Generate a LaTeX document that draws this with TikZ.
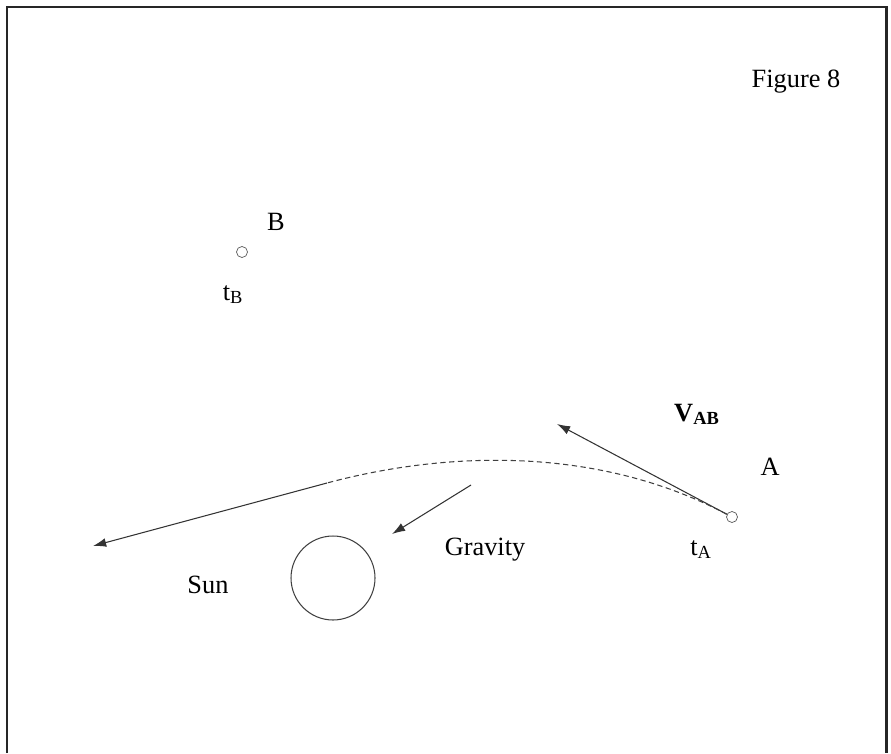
\documentclass[tikz,border=0pt]{standalone}
\usepackage{fontspec}
\setmainfont{Liberation Serif}
\usetikzlibrary{arrows.meta}

\begin{document}
\begin{tikzpicture}[x=0.02cm,y=-0.02cm,font=\fontsize{15}{18}\selectfont,
	pt/.style={draw,circle,inner sep=0pt,minimum size=0.22cm,color=black!65},
	vec/.style={-{Latex[length=7.5pt,width=5pt]},color=black!80,line width=0.6pt},
	lbl/.style={anchor=base,inner sep=0pt}]
	\useasboundingbox (0,0) rectangle (891,753);
	\draw[line width=1.7pt,color=black!85] (7,753) -- (7,7) -- (886,7) -- (886,753);
	\node[lbl] (fig) at (796,88) {Figure 8};
	% the two positions
	\node[pt] (b) at (242,252) {}; \node[pt] (a) at (732,517) {};
	\node[lbl] (blab) at (276,230) {B}; \node[lbl] (tb) at (233,300) {t\textsubscript{B}};
	\node[lbl] (alab) at (770,475) {A}; \node[lbl] (ta) at (701,555) {t\textsubscript{A}};
	\node[lbl] (vab) at (697,421) {\textbf{V}\textsubscript{\textbf{AB}}};
	% sun
	\node[draw,circle,inner sep=0pt,minimum size=1.68cm,color=black!75,line width=0.6pt] (sun) at (333,578) {};
	\node[lbl] (sunlab) at (208,593) {Sun}; \node[lbl] (grav) at (485,555) {Gravity};
	\coordinate (vtip) at (557,424); \coordinate (bend) at (327,483); \coordinate (ptip) at (93,546);
	\coordinate (gtail) at (471,485); \coordinate (gtip) at (392,534);
	\draw[vec] (a) -- (vtip);
	\draw[dashed,color=black!75,line width=0.6pt,dash pattern=on 3pt off 2pt] (a) .. controls (600,447) and (450,450) .. (bend);
	\draw[vec] (bend) -- (ptip);
	\draw[vec] (gtail) -- (gtip);
\end{tikzpicture}
\end{document}
